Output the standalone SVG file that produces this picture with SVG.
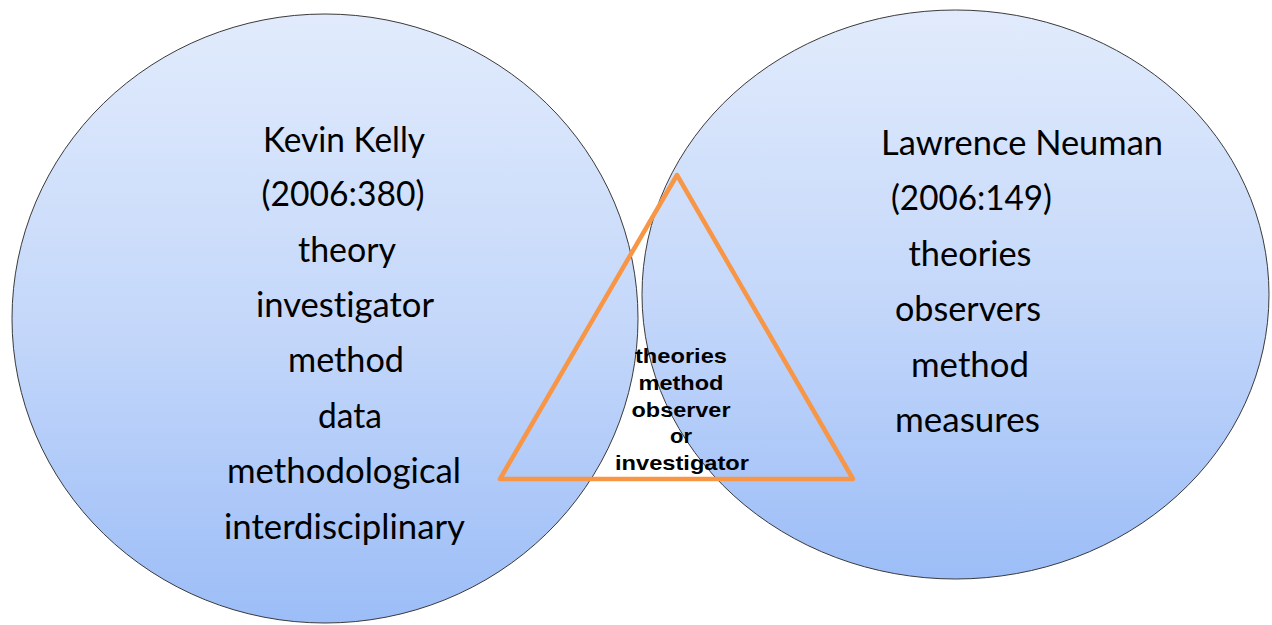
<svg xmlns="http://www.w3.org/2000/svg" width="1272" height="625" viewBox="0 0 1272 625">
  <defs>
    <linearGradient id="blue" x1="0" y1="0" x2="0" y2="1">
      <stop offset="0" stop-color="#e1ebfc"/>
      <stop offset="0.5" stop-color="#c5d8fa"/>
      <stop offset="1" stop-color="#9cbdf7"/>
    </linearGradient>
    <style>
      .circ { fill: url(#blue); stroke: #3a3a3a; stroke-width: 1; }
      .lbl { font-family: Lato, "Open Sans", "Liberation Sans", sans-serif; font-size: 35px; fill: #000; text-anchor: middle; font-variant-ligatures: none; }
      .mid { font-family: "Liberation Sans", Arial, sans-serif; font-weight: bold; font-size: 21px; fill: #000; text-anchor: middle; }
      .tri { fill: none; stroke: #f79646; stroke-width: 4.5; stroke-linejoin: round; }
    </style>
  </defs>
  <rect width="1272" height="625" fill="#ffffff"/>

  <g id="kelly">
    <ellipse class="circ" cx="325" cy="318.5" rx="313" ry="304.5"/>
    <text class="lbl" x="344" y="152" textLength="162" lengthAdjust="spacingAndGlyphs">Kevin Kelly</text>
    <text class="lbl" x="343" y="206" textLength="163" lengthAdjust="spacingAndGlyphs">(2006:380)</text>
    <text class="lbl" x="347" y="262" textLength="98" lengthAdjust="spacingAndGlyphs">theory</text>
    <text class="lbl" x="345" y="317" textLength="178" lengthAdjust="spacingAndGlyphs">investigator</text>
    <text class="lbl" x="346" y="372" textLength="116" lengthAdjust="spacingAndGlyphs">method</text>
    <text class="lbl" x="350" y="428" textLength="64" lengthAdjust="spacingAndGlyphs">data</text>
    <text class="lbl" x="344" y="483" textLength="234" lengthAdjust="spacingAndGlyphs">methodological</text>
    <text class="lbl" x="344.5" y="539" textLength="241" lengthAdjust="spacingAndGlyphs">interdisciplinary</text>
  </g>

  <g id="neuman">
    <ellipse class="circ" cx="955.5" cy="294.5" rx="313.5" ry="284.5"/>
    <text class="lbl" x="1022" y="155" textLength="282" lengthAdjust="spacingAndGlyphs">Lawrence Neuman</text>
    <text class="lbl" x="971.5" y="210" textLength="161" lengthAdjust="spacingAndGlyphs">(2006:149)</text>
    <text class="lbl" x="970" y="266" textLength="123" lengthAdjust="spacingAndGlyphs">theories</text>
    <text class="lbl" x="968" y="321" textLength="146" lengthAdjust="spacingAndGlyphs">observers</text>
    <text class="lbl" x="970" y="377" textLength="118" lengthAdjust="spacingAndGlyphs">method</text>
    <text class="lbl" x="967.5" y="432" textLength="145" lengthAdjust="spacingAndGlyphs">measures</text>
  </g>

  <g id="triangulation">
    <polygon class="tri" points="677,175 500,479 853,479"/>
    <text class="mid" x="681" y="363" textLength="92" lengthAdjust="spacingAndGlyphs">theories</text>
    <text class="mid" x="681" y="390" textLength="85" lengthAdjust="spacingAndGlyphs">method</text>
    <text class="mid" x="681" y="417" textLength="99" lengthAdjust="spacingAndGlyphs">observer</text>
    <text class="mid" x="681" y="443" textLength="22" lengthAdjust="spacingAndGlyphs">or</text>
    <text class="mid" x="682" y="470" textLength="134" lengthAdjust="spacingAndGlyphs">investigator</text>
  </g>
</svg>
